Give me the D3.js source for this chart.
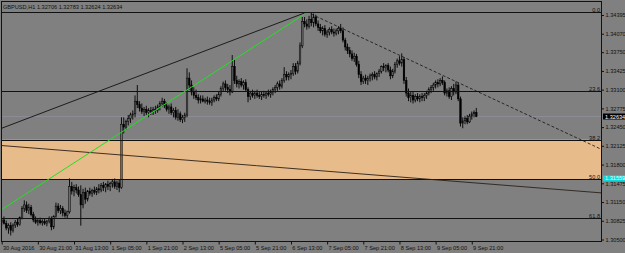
<!DOCTYPE html>
<html>
<head>
<meta charset="utf-8">
<script src="https://cdn.jsdelivr.net/npm/d3@7/dist/d3.min.js"></script>
<style>
    html, body { margin: 0; padding: 0; background: #808080; overflow: hidden; }
    text { font-family: 'Liberation Sans', Arial, sans-serif; }
</style>
</head>
<body>
<div id="chart"></div>
<script>
const symbol = 'GBPUSD,H1'

// GBPUSD H1, 30 Aug 2016 05:00 .. 9 Sep 2016 23:00, one row per hour: [open, high, low, close]
const bars = [
    [1.3080,1.3088,1.3074,1.3084],[1.3084,1.3090,1.3076,1.3078],[1.3078,1.3083,1.3066,1.3070],[1.3070,1.3078,1.3060,1.3074],
    [1.3074,1.3080,1.3057,1.3066],[1.3066,1.3078,1.3062,1.3075],[1.3075,1.3084,1.3070,1.3080],[1.3080,1.3086,1.3072,1.3076],
    [1.3076,1.3090,1.3074,1.3088],[1.3088,1.3108,1.3085,1.3104],[1.3104,1.3118,1.3098,1.3110],[1.3110,1.3116,1.3096,1.3100],
    [1.3100,1.3112,1.3094,1.3106],[1.3106,1.3110,1.3090,1.3093],[1.3093,1.3098,1.3080,1.3084],[1.3084,1.3090,1.3077,1.3080],
    [1.3080,1.3087,1.3074,1.3083],[1.3083,1.3088,1.3076,1.3079],[1.3079,1.3085,1.3074,1.3081],[1.3081,1.3086,1.3075,1.3078],
    [1.3078,1.3084,1.3073,1.3082],[1.3082,1.3090,1.3078,1.3086],[1.3086,1.3090,1.3066,1.3072],[1.3072,1.3092,1.3068,1.3090],
    [1.3090,1.3114,1.3088,1.3108],[1.3108,1.3113,1.3096,1.3100],[1.3100,1.3110,1.3094,1.3104],[1.3104,1.3108,1.3090,1.3096],
    [1.3096,1.3102,1.3088,1.3092],[1.3092,1.3100,1.3086,1.3098],[1.3098,1.3156,1.3095,1.3142],[1.3142,1.3150,1.3128,1.3134],
    [1.3134,1.3145,1.3125,1.3140],[1.3140,1.3146,1.3130,1.3136],[1.3136,1.3142,1.3124,1.3128],[1.3128,1.3144,1.3074,1.3110],
    [1.3110,1.3138,1.3104,1.3132],[1.3132,1.3140,1.3112,1.3120],[1.3120,1.3136,1.3116,1.3134],[1.3134,1.3140,1.3126,1.3130],
    [1.3130,1.3138,1.3124,1.3135],[1.3135,1.3142,1.3128,1.3132],[1.3132,1.3141,1.3127,1.3138],[1.3138,1.3146,1.3130,1.3136],
    [1.3136,1.3148,1.3132,1.3144],[1.3144,1.3150,1.3134,1.3140],[1.3140,1.3148,1.3132,1.3146],[1.3146,1.3152,1.3136,1.3142],
    [1.3142,1.3150,1.3134,1.3147],[1.3147,1.3155,1.3140,1.3150],[1.3150,1.3156,1.3138,1.3142],[1.3142,1.3152,1.3136,1.3148],
    [1.3148,1.3154,1.3132,1.3140],[1.3140,1.3262,1.3138,1.3250],[1.3250,1.3262,1.3234,1.3245],[1.3245,1.3258,1.3240,1.3255],
    [1.3255,1.3266,1.3248,1.3260],[1.3260,1.3270,1.3252,1.3266],[1.3266,1.3274,1.3258,1.3268],[1.3268,1.3300,1.3262,1.3290],
    [1.3290,1.3318,1.3278,1.3284],[1.3284,1.3290,1.3272,1.3278],[1.3278,1.3286,1.3268,1.3272],[1.3272,1.3280,1.3264,1.3276],
    [1.3276,1.3282,1.3266,1.3270],[1.3270,1.3278,1.3262,1.3274],[1.3274,1.3280,1.3266,1.3272],[1.3272,1.3280,1.3266,1.3276],
    [1.3276,1.3282,1.3268,1.3274],[1.3274,1.3284,1.3270,1.3280],[1.3280,1.3290,1.3274,1.3286],[1.3286,1.3296,1.3280,1.3290],
    [1.3290,1.3294,1.3278,1.3282],[1.3282,1.3288,1.3272,1.3276],[1.3276,1.3284,1.3268,1.3280],[1.3280,1.3286,1.3266,1.3270],
    [1.3270,1.3278,1.3262,1.3274],[1.3274,1.3280,1.3258,1.3262],[1.3262,1.3276,1.3256,1.3268],[1.3268,1.3272,1.3254,1.3258],
    [1.3258,1.3266,1.3252,1.3262],[1.3262,1.3270,1.3254,1.3266],[1.3266,1.3347,1.3262,1.3330],[1.3330,1.3340,1.3310,1.3318],
    [1.3318,1.3326,1.3300,1.3306],[1.3306,1.3314,1.3294,1.3300],[1.3300,1.3310,1.3292,1.3296],[1.3296,1.3302,1.3286,1.3292],
    [1.3292,1.3300,1.3286,1.3294],[1.3294,1.3300,1.3288,1.3290],[1.3290,1.3296,1.3286,1.3292],[1.3292,1.3298,1.3284,1.3290],
    [1.3290,1.3296,1.3284,1.3288],[1.3288,1.3296,1.3282,1.3292],[1.3292,1.3300,1.3288,1.3296],[1.3296,1.3302,1.3290,1.3294],
    [1.3294,1.3306,1.3290,1.3302],[1.3302,1.3316,1.3298,1.3312],[1.3312,1.3324,1.3306,1.3320],[1.3320,1.3326,1.3308,1.3314],
    [1.3314,1.3320,1.3304,1.3310],[1.3310,1.3318,1.3300,1.3306],[1.3306,1.3370,1.3304,1.3350],[1.3350,1.3362,1.3320,1.3326],
    [1.3326,1.3334,1.3314,1.3320],[1.3320,1.3328,1.3312,1.3324],[1.3324,1.3330,1.3314,1.3318],[1.3318,1.3326,1.3310,1.3322],
    [1.3322,1.3328,1.3306,1.3310],[1.3310,1.3314,1.3288,1.3298],[1.3298,1.3308,1.3292,1.3304],[1.3304,1.3310,1.3296,1.3300],
    [1.3300,1.3308,1.3294,1.3304],[1.3304,1.3310,1.3296,1.3300],[1.3300,1.3306,1.3294,1.3298],[1.3298,1.3306,1.3292,1.3302],
    [1.3302,1.3308,1.3296,1.3300],[1.3300,1.3306,1.3294,1.3304],[1.3304,1.3310,1.3298,1.3302],[1.3302,1.3310,1.3296,1.3306],
    [1.3306,1.3314,1.3300,1.3310],[1.3310,1.3318,1.3304,1.3314],[1.3314,1.3324,1.3308,1.3320],[1.3320,1.3326,1.3310,1.3316],
    [1.3316,1.3330,1.3312,1.3326],[1.3326,1.3349,1.3322,1.3336],[1.3336,1.3342,1.3326,1.3332],[1.3332,1.3340,1.3326,1.3336],
    [1.3336,1.3344,1.3328,1.3338],[1.3338,1.3356,1.3334,1.3350],[1.3350,1.3356,1.3336,1.3342],[1.3342,1.3360,1.3338,1.3356],
    [1.3356,1.3392,1.3352,1.3386],[1.3386,1.3436,1.3382,1.3428],[1.3428,1.3436,1.3418,1.3424],[1.3424,1.3432,1.3414,1.3420],
    [1.3420,1.3438,1.3416,1.3432],[1.3432,1.3444,1.3420,1.3426],[1.3426,1.3442,1.3418,1.3436],[1.3436,1.3440,1.3420,1.3424],
    [1.3424,1.3430,1.3412,1.3418],[1.3418,1.3424,1.3408,1.3412],[1.3412,1.3420,1.3404,1.3416],[1.3416,1.3422,1.3402,1.3406],
    [1.3406,1.3414,1.3400,1.3410],[1.3410,1.3418,1.3404,1.3414],[1.3414,1.3420,1.3406,1.3410],[1.3410,1.3416,1.3402,1.3408],
    [1.3408,1.3416,1.3404,1.3412],[1.3412,1.3420,1.3406,1.3416],[1.3416,1.3424,1.3408,1.3412],[1.3412,1.3418,1.3392,1.3396],
    [1.3396,1.3400,1.3378,1.3384],[1.3384,1.3390,1.3372,1.3378],[1.3378,1.3384,1.3366,1.3372],[1.3372,1.3378,1.3360,1.3364],
    [1.3364,1.3374,1.3358,1.3368],[1.3368,1.3372,1.3350,1.3354],[1.3354,1.3360,1.3330,1.3336],[1.3336,1.3342,1.3318,1.3324],
    [1.3324,1.3334,1.3320,1.3330],[1.3330,1.3336,1.3320,1.3326],[1.3326,1.3334,1.3318,1.3330],[1.3330,1.3338,1.3324,1.3334],
    [1.3334,1.3340,1.3326,1.3336],[1.3336,1.3342,1.3328,1.3332],[1.3332,1.3340,1.3326,1.3338],[1.3338,1.3346,1.3332,1.3342],
    [1.3342,1.3352,1.3338,1.3350],[1.3350,1.3356,1.3342,1.3348],[1.3348,1.3354,1.3340,1.3352],[1.3352,1.3356,1.3340,1.3344],
    [1.3344,1.3350,1.3328,1.3334],[1.3334,1.3346,1.3330,1.3342],[1.3342,1.3358,1.3338,1.3354],[1.3354,1.3364,1.3348,1.3360],
    [1.3360,1.3368,1.3352,1.3356],[1.3356,1.3373,1.3350,1.3362],[1.3362,1.3366,1.3320,1.3326],[1.3326,1.3332,1.3298,1.3304],
    [1.3304,1.3312,1.3290,1.3296],[1.3296,1.3306,1.3288,1.3300],[1.3300,1.3306,1.3286,1.3292],[1.3292,1.3302,1.3288,1.3298],
    [1.3298,1.3304,1.3290,1.3294],[1.3294,1.3302,1.3288,1.3298],[1.3298,1.3304,1.3290,1.3296],[1.3296,1.3304,1.3290,1.3300],
    [1.3300,1.3308,1.3294,1.3304],[1.3304,1.3314,1.3300,1.3310],[1.3310,1.3318,1.3304,1.3314],[1.3314,1.3322,1.3308,1.3318],
    [1.3318,1.3326,1.3312,1.3322],[1.3322,1.3328,1.3314,1.3320],[1.3320,1.3330,1.3316,1.3326],[1.3326,1.3333,1.3318,1.3322],
    [1.3322,1.3326,1.3300,1.3304],[1.3304,1.3312,1.3298,1.3308],[1.3308,1.3314,1.3294,1.3298],[1.3298,1.3316,1.3292,1.3312],
    [1.3312,1.3320,1.3300,1.3306],[1.3306,1.3324,1.3302,1.3318],[1.3318,1.3322,1.3290,1.3294],[1.3294,1.3298,1.3246,1.3252],
    [1.3252,1.3262,1.3243,1.3256],[1.3256,1.3264,1.3250,1.3260],[1.3260,1.3266,1.3250,1.3254],[1.3254,1.3268,1.3252,1.3264],
    [1.3264,1.3272,1.3258,1.3268],[1.3268,1.3274,1.3262,1.32706],[1.32706,1.32783,1.32624,1.32634]
]

const timeTicks = [0, 16, 32, 48, 64, 80, 96, 112, 128, 144, 160, 176, 192, 208]
const timeLabels = ['30 Aug 2016', '30 Aug 21:00', '31 Aug 13:00', '1 Sep 05:00', '1 Sep 21:00', '2 Sep 13:00',
    '5 Sep 05:00', '5 Sep 21:00', '6 Sep 13:00', '7 Sep 05:00', '7 Sep 21:00', '8 Sep 13:00', '9 Sep 05:00', '9 Sep 21:00']
const priceTicks = [1.34395, 1.34070, 1.33750, 1.33425, 1.33100, 1.32775, 1.32450, 1.32125, 1.31800, 1.31475, 1.31150, 1.30825, 1.30500]

// fibonacci retracement drawn from the 6 Sep high down to the mid-August low
const fibHigh = 1.3444
const fibLow = 1.2866
const fibLevels = [0.0, 23.6, 38.2, 50.0, 61.8]
const fibZone = [38.2, 50.0]
const fibMark = 1.31559

// trend line anchors: [bar index, price]
const lineUp = [[0, 1.3243], [134, 1.3443]]
const lineGreen = [[0, 1.3102], [134, 1.3441]]
const lineDown = [[137, 1.3441], [195, 1.3335]]
const lineLong = [[0, 1.3213], [210, 1.3148]]

const W = 625, H = 253
const plot = { left: 1, top: 1, right: 601, bottom: 241 }
const bg = '#808080'

const x = d3.scaleLinear().domain([0, 210]).range([1.7, 476.3])
const y = d3.scaleLinear().domain([1.30500, 1.34395]).range([239.5, 15])
const fibPrice = lv => fibHigh - (fibHigh - fibLow) * lv / 100

const svg = d3.select('#chart').append('svg')
    .attr('width', W)
    .attr('height', H)
    .style('display', 'block')

svg.append('rect').attr('width', W).attr('height', H).attr('fill', bg)

svg.append('clipPath').attr('id', 'plot-clip')
    .append('rect')
    .attr('x', plot.left).attr('y', plot.top)
    .attr('width', plot.right - plot.left).attr('height', plot.bottom - plot.top)

const g = svg.append('g').attr('clip-path', 'url(#plot-clip)')

// orange zone between 38.2 and 50.0
g.append('rect')
    .attr('x', plot.left)
    .attr('y', y(fibPrice(fibZone[0])))
    .attr('width', plot.right - plot.left)
    .attr('height', y(fibPrice(fibZone[1])) - y(fibPrice(fibZone[0])))
    .attr('fill', '#e8bb8a')

// bid line
g.append('line')
    .attr('x1', plot.left).attr('x2', plot.right)
    .attr('y1', y(bars[bars.length - 1][3])).attr('y2', y(bars[bars.length - 1][3]))
    .attr('stroke', '#9090a0')
    .attr('stroke-width', 0.7)

// candles
g.selectAll('line.wick').data(bars).join('line')
    .attr('class', 'wick')
    .attr('x1', (d, i) => x(i)).attr('x2', (d, i) => x(i))
    .attr('y1', d => y(d[1])).attr('y2', d => y(d[2]))
    .attr('stroke', '#000')
    .attr('stroke-width', 0.9)

g.selectAll('rect.body').data(bars).join('rect')
    .attr('class', 'body')
    .attr('x', (d, i) => x(i) - 0.8)
    .attr('width', 1.6)
    .attr('y', d => y(Math.max(d[0], d[3])))
    .attr('height', d => Math.max(0.7, Math.abs(y(d[0]) - y(d[3]))))
    .attr('fill', d => d[3] >= d[0] ? '#6a6a6a' : '#000')
    .attr('stroke', '#000')
    .attr('stroke-width', 0.5)

// fib lines
g.selectAll('line.fib').data(fibLevels).join('line')
    .attr('class', 'fib')
    .attr('x1', plot.left).attr('x2', plot.right)
    .attr('y1', d => Math.round(y(fibPrice(d))) + 0.5)
    .attr('y2', d => Math.round(y(fibPrice(d))) + 0.5)
    .attr('stroke', '#111')
    .attr('stroke-width', 1)

g.selectAll('text.fib').data(fibLevels).join('text')
    .attr('class', 'fib')
    .attr('x', plot.right - 1)
    .attr('y', d => Math.round(y(fibPrice(d))) - 0.5)
    .attr('text-anchor', 'end')
    .style('font-size', '5.6px')
    .style('fill', '#111')
    .text(d => d.toFixed(1))

// trend lines, extended where the terminal draws them as rays
const at = (pts, i) => pts[0][1] + (pts[1][1] - pts[0][1]) * (i - pts[0][0]) / (pts[1][0] - pts[0][0])
const leftBar = x.invert(plot.left - 2)
const rightBar = x.invert(plot.right + 2)

const drawLine = (pts, i0, i1, color, width, dash) => {
    g.append('line')
        .attr('x1', x(i0)).attr('y1', y(at(pts, i0)))
        .attr('x2', x(i1)).attr('y2', y(at(pts, i1)))
        .attr('stroke', color)
        .attr('stroke-width', width)
        .attr('stroke-dasharray', dash)
}

drawLine(lineLong, leftBar, rightBar, '#2a2018', 0.9, null)
drawLine(lineUp, leftBar, lineUp[1][0], '#111', 0.9, null)
drawLine(lineGreen, lineGreen[0][0], lineGreen[1][0], '#22e022', 1, null)
drawLine(lineDown, lineDown[0][0], rightBar, '#111', 0.8, '3,2')

// frame
svg.append('rect')
    .attr('x', plot.left + 0.5).attr('y', plot.top + 0.5)
    .attr('width', plot.right - plot.left).attr('height', plot.bottom - plot.top)
    .attr('fill', 'none')
    .attr('stroke', '#111')
    .attr('stroke-width', 1)

// price scale
const yAxis = svg.append('g')
    .attr('transform', `translate(${plot.right + 0.5},0)`)
    .call(d3.axisRight(y).tickValues(priceTicks).tickFormat(d3.format('.5f')).tickSize(2.5).tickPadding(1.5))
yAxis.select('.domain').remove()
yAxis.selectAll('line').attr('stroke', '#111')
yAxis.selectAll('text')
    .attr('font-family', null)
    .style('font-size', '5.6px')
    .style('fill', '#111')

// time scale
const xAxis = svg.append('g')
    .attr('transform', `translate(0,${plot.bottom + 0.5})`)
    .call(d3.axisBottom(x).tickValues(timeTicks).tickFormat((d, i) => timeLabels[i]).tickSize(3).tickPadding(1.5))
xAxis.select('.domain').remove()
xAxis.selectAll('line').attr('stroke', '#111')
xAxis.selectAll('text')
    .attr('font-family', null)
    .attr('text-anchor', 'start')
    .attr('dx', '0.8')
    .style('font-size', '5.6px')
    .style('fill', '#111')

// price markers on the scale
const marker = (price, fill, color) => {
    const cy = y(price)
    svg.append('rect')
        .attr('x', plot.right + 2).attr('y', cy - 3)
        .attr('width', W - plot.right - 2).attr('height', 6)
        .attr('fill', fill)
    svg.append('text')
        .attr('x', plot.right + 4).attr('y', cy + 2)
        .style('font-size', '5.6px')
        .style('fill', color)
        .text(d3.format('.5f')(price))
}
marker(bars[bars.length - 1][3], '#000', '#fff')
marker(fibMark, '#10d8d8', '#e8ffff')

// header
const last = bars[bars.length - 1]
svg.append('text')
    .attr('x', 3).attr('y', 8.5)
    .style('font-size', '5.6px')
    .style('fill', '#111')
    .text(`${symbol}  ${last.map(d3.format('.5f')).join(' ')}`)
</script>
</body>
</html>
